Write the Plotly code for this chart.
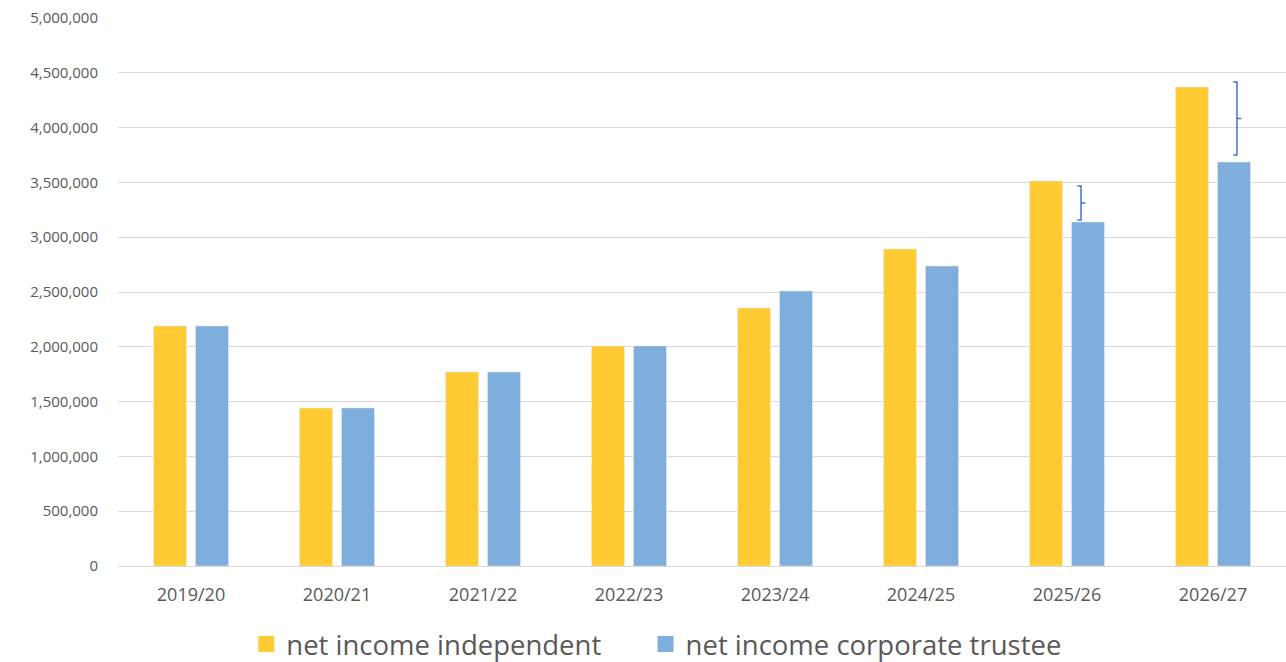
import plotly.graph_objects as go

years = ["2019/20", "2020/21", "2021/22", "2022/23", "2023/24", "2024/25", "2025/26", "2026/27"]
independent = [2190000, 1442000, 1770000, 2008000, 2355000, 2893000, 3513000, 4370000]
corporate = [2190000, 1442000, 1770000, 2008000, 2509000, 2737000, 3139000, 3686000]

series_names = ["net income independent", "net income corporate trustee"]
series_colors = ["#FFCA32", "#7DAEDC"]
legend_ids = ["legend", "legend2"]

# difference brackets: category index, horizontal offset, top, bottom
brace_idx = [6, 7]
brace_off = [0.096, 0.164]
brace_top = [3467000, 4416000]
brace_bottom = [3157000, 3750000]

x = list(range(len(years)))

fig = go.Figure()
for vals, name, color in zip([independent, corporate], series_names, series_colors):
    fig.add_bar(x=x, y=vals, name=name, marker_color=color, showlegend=False)
# legend entries with square swatches, one legend box each
for name, color, lg in zip(series_names, series_colors, legend_ids):
    fig.add_scatter(x=[None], y=[None], mode="markers", name=name, legend=lg,
                    marker=dict(symbol="square", size=16, color=color))

shapes = []
for i, off, top, bot in zip(brace_idx, brace_off, brace_top, brace_bottom):
    xc = i + off
    mid = (top + bot) / 2
    hook = 0.025
    shapes.append(dict(
        type="path", xref="x", yref="y",
        path=f"M {xc - hook},{top} L {xc},{top} L {xc},{bot} L {xc - hook},{bot}",
        line=dict(color="#4472C4", width=1.5),
    ))
    shapes.append(dict(
        type="line", xref="x", yref="y",
        x0=xc, x1=xc + 0.03, y0=mid, y1=mid,
        line=dict(color="#4472C4", width=1.5),
    ))

legend_style = dict(
    orientation="h", xref="container", yref="container",
    xanchor="left", yanchor="middle", y=0.027,
    font=dict(size=27.5, color="#595959"),
    itemwidth=30, itemsizing="trace", bgcolor="rgba(0,0,0,0)",
)

fig.update_layout(
    width=1286, height=662,
    margin=dict(l=118, r=0, t=18, b=96),
    paper_bgcolor="white", plot_bgcolor="white",
    barmode="group", bargap=0.425, bargroupgap=0.214,
    font=dict(family="Open Sans, Liberation Sans, sans-serif", color="#595959"),
    shapes=shapes,
    showlegend=True,
    legend=dict(legend_style, x=0.1915),
    legend2=dict(legend_style, x=0.502),
    xaxis=dict(
        tickmode="array", tickvals=x, ticktext=years,
        range=[-0.5, len(years) - 0.5],
        showgrid=False, showline=True, linecolor="#D9D9D9", linewidth=1,
        ticks="", tickfont=dict(size=18), ticklabelstandoff=12,
    ),
    yaxis=dict(
        range=[0, 5000000], tickvals=list(range(0, 5000001, 500000)),
        tickformat=",", showgrid=True, gridcolor="#D9D9D9", gridwidth=1,
        zeroline=False, showline=False, ticks="",
        tickfont=dict(size=15), ticklabelstandoff=19,
    ),
)

fig.write_html("out.html")
